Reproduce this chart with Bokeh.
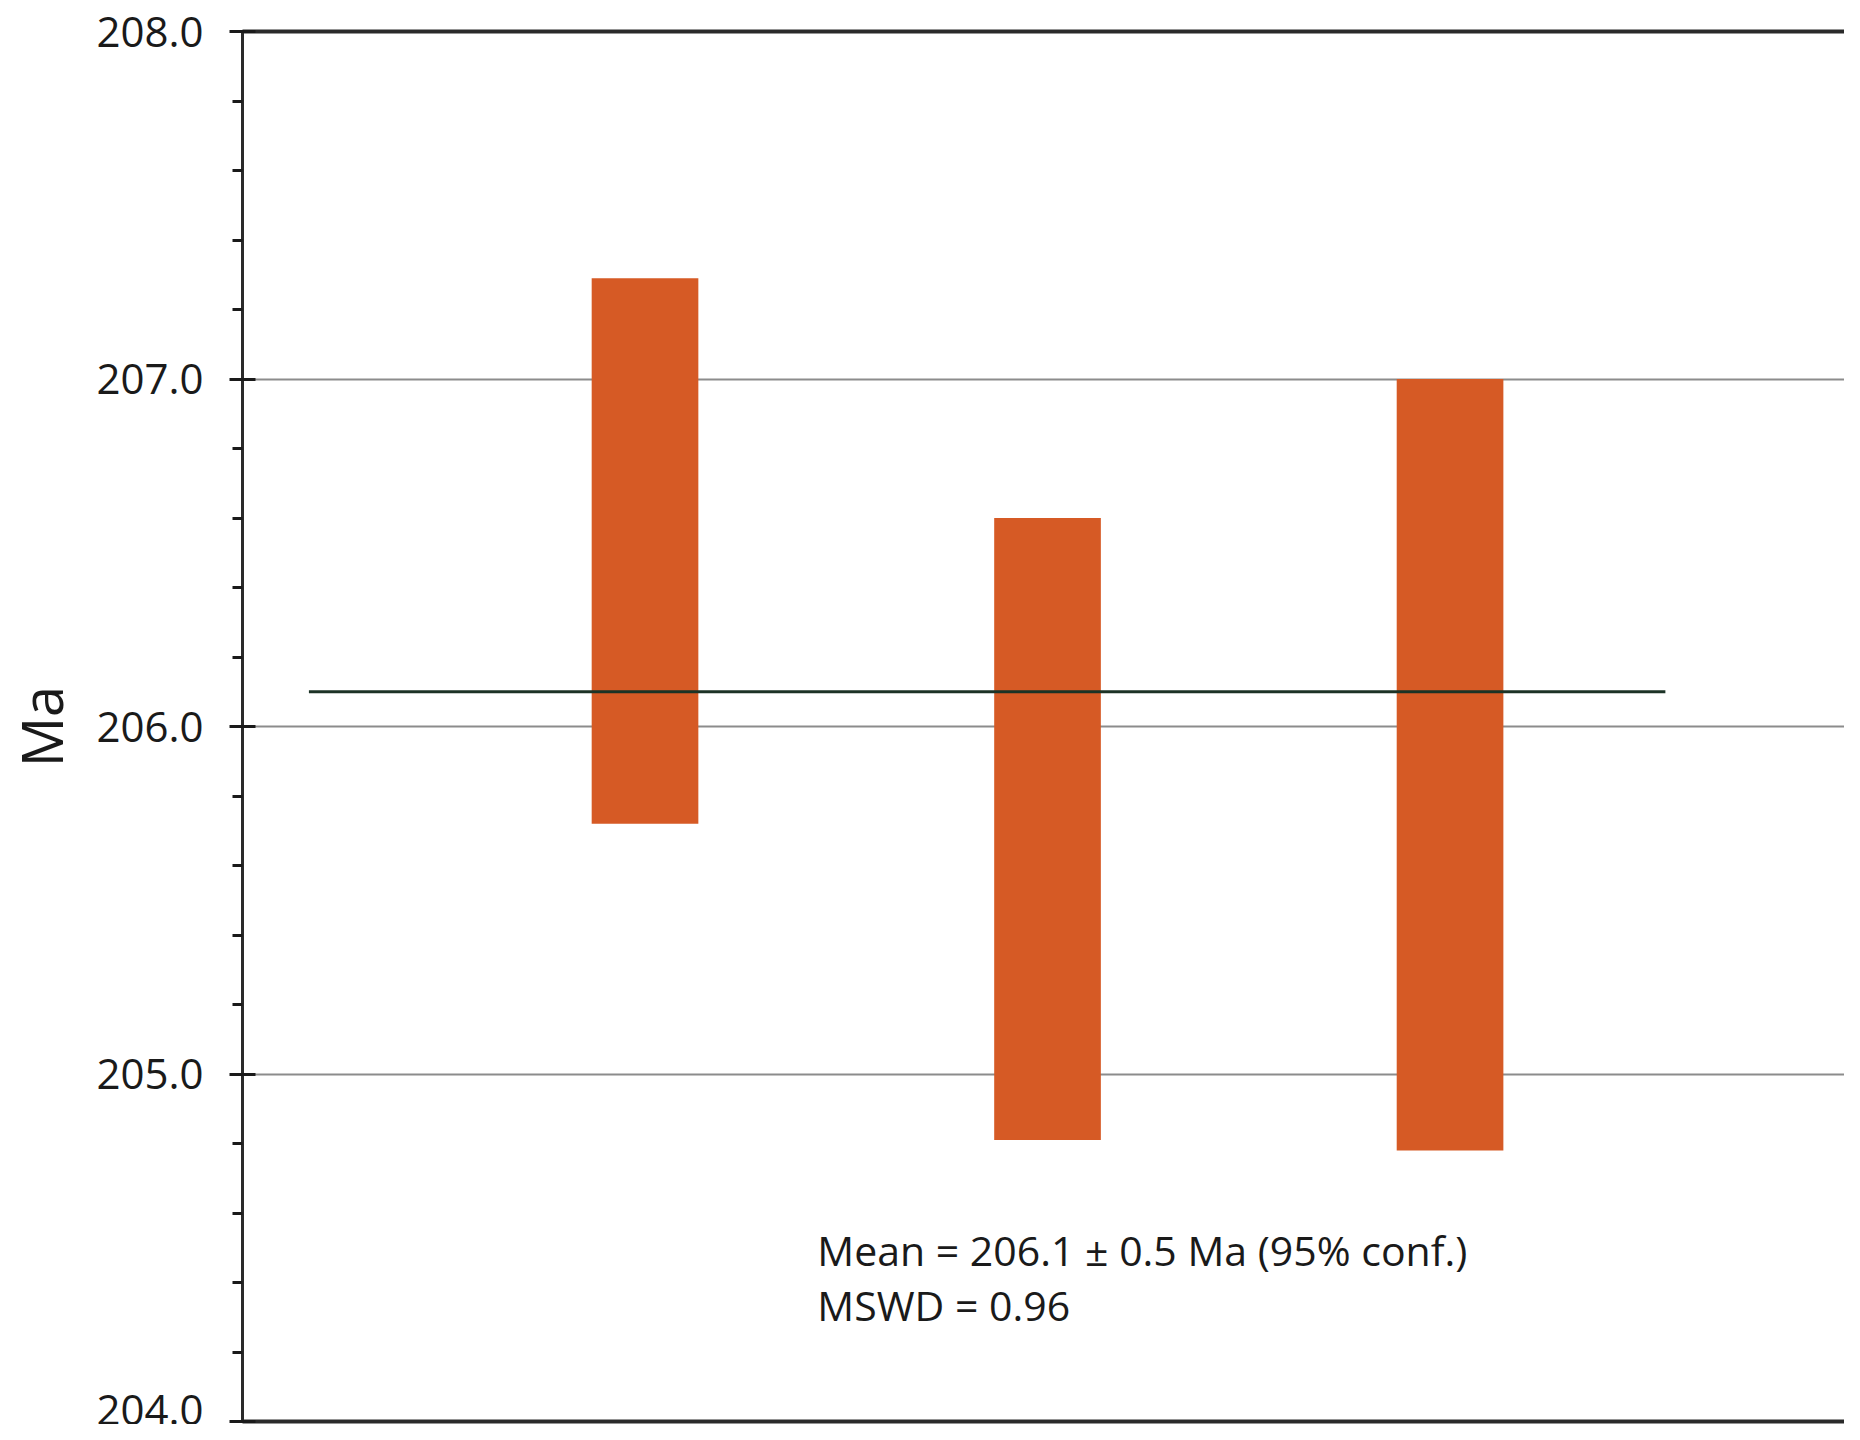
from bokeh.plotting import figure
from bokeh.models import (Range1d, SingleIntervalTicker, FixedTicker, PrintfTickFormatter,
                          LinearAxis, ColumnDataSource)
from bokeh.embed import file_html
from bokeh.resources import INLINE
from bokeh.core.properties import value

# ---- data ----
sample_pos = [1, 2, 3]
age_top = [207.29, 206.60, 207.00]
age_bottom = [205.72, 204.81, 204.78]
mean_age = 206.1
mean_err = 0.5
mswd = 0.96
mean_x_start = 0.165
mean_x_end = 3.535
y_label = "Ma"
stats_lines = ["Mean = 206.1 \u00b1 0.5 Ma (95% conf.)", "MSWD = 0.96"]
stats_x = [1.428, 1.428]
stats_y = [204.494, 204.336]

FONT = "Open Sans"
BAR_COLOR = "#D65A25"

p = figure(width=1844, height=1424, output_backend="svg", toolbar_location=None,
           x_range=Range1d(0, 3.98), y_range=Range1d(204, 208),
           min_border_left=238, min_border_top=31, min_border_bottom=3,
           min_border_right=0, x_axis_location=None)
p.outline_line_color = None
p.background_fill_color = "white"
p.border_fill_color = "white"

bars = ColumnDataSource(dict(x=sample_pos, top=age_top, bottom=age_bottom))
p.vbar(x="x", width=0.265, top="top", bottom="bottom", source=bars,
       fill_color=BAR_COLOR, line_color=None)

p.segment(x0=[mean_x_start], x1=[mean_x_end], y0=[mean_age], y1=[mean_age],
          line_color="#1c3326", line_width=3)

p.text(x=stats_x, y=stats_y, text=stats_lines, text_font=value(FONT),
       text_font_size="41px", text_color="#1a1a1a", text_baseline="alphabetic")

# y axis
yax = p.yaxis[0]
yax.ticker = SingleIntervalTicker(interval=1, num_minor_ticks=5)
yax.formatter = PrintfTickFormatter(format="%.1f")
yax.axis_line_color = "#2a2a2a"
yax.axis_line_width = 3
yax.major_tick_in = 13
yax.major_tick_out = 13
yax.major_tick_line_width = 3
yax.major_tick_line_color = "#1a1a1a"
yax.minor_tick_in = 0
yax.minor_tick_out = 10
yax.minor_tick_line_width = 3
yax.minor_tick_line_color = "#1a1a1a"
yax.major_label_standoff = 26
yax.major_label_text_font = FONT
yax.major_label_text_font_size = "42px"
yax.major_label_text_color = "#1a1a1a"
yax.axis_label = y_label
yax.axis_label_text_font = FONT
yax.axis_label_text_font_size = "56px"
yax.axis_label_text_font_style = "normal"
yax.axis_label_text_color = "#1a1a1a"
yax.axis_label_standoff = 14

p.ygrid.ticker = SingleIntervalTicker(interval=1)
p.ygrid.grid_line_color = "#8c8c8c"
p.ygrid.grid_line_width = 2
p.xgrid.visible = False

# top and bottom frame lines
for loc in ("above", "below"):
    ax = LinearAxis(ticker=FixedTicker(ticks=[]), major_label_text_font_size="0px",
                    axis_line_color="#2a2a2a", axis_line_width=4,
                    major_tick_in=0, major_tick_out=0, minor_tick_in=0, minor_tick_out=0,
                    major_label_standoff=0)
    p.add_layout(ax, loc)

open("out.html", "w").write(file_html(p, INLINE))
